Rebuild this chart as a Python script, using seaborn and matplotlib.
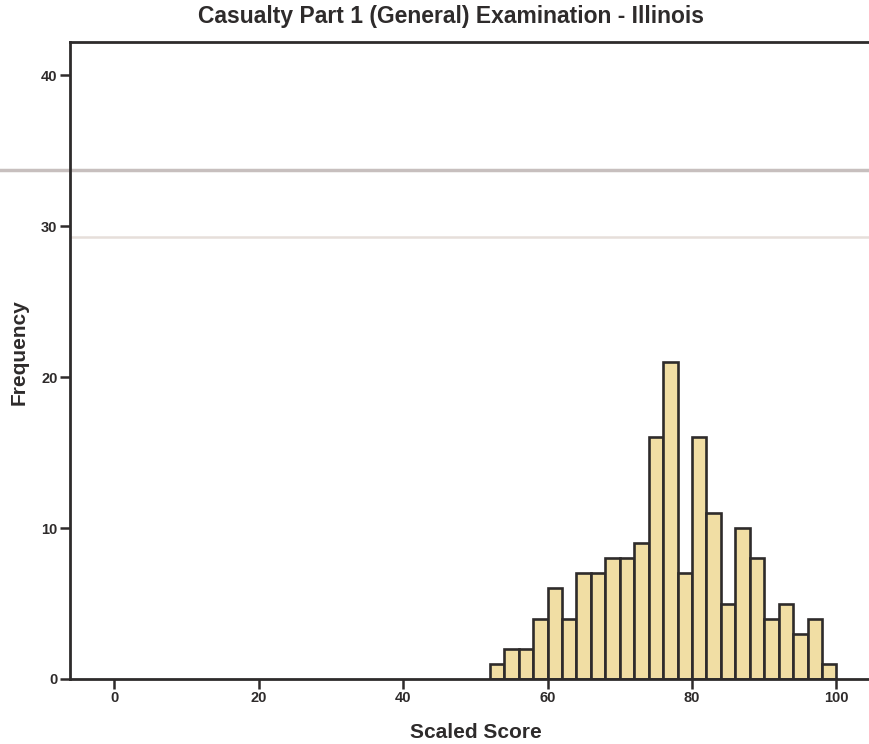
import matplotlib
matplotlib.use("Agg")
import matplotlib.pyplot as plt
import seaborn as sns

# histogram of scaled scores, bins of width 2
bin_edges = [52, 54, 56, 58, 60, 62, 64, 66, 68, 70, 72, 74, 76,
             78, 80, 82, 84, 86, 88, 90, 92, 94, 96, 98, 100]
bin_centers = [53, 55, 57, 59, 61, 63, 65, 67, 69, 71, 73, 75,
               77, 79, 81, 83, 85, 87, 89, 91, 93, 95, 97, 99]
counts = [1, 2, 2, 4, 6, 4, 7, 7, 8, 8, 9, 16,
          21, 7, 16, 11, 5, 10, 8, 4, 5, 3, 4, 1]
x_ticks = [0, 20, 40, 60, 80, 100]
y_ticks = [0, 10, 20, 30, 40]

sns.set_style("white")
plt.rcParams["font.family"] = ["Liberation Sans", "DejaVu Sans"]

ink = "#2e2b2b"
W, H = 869, 744
fig = plt.figure(figsize=(W / 100, H / 100), dpi=100)
ax = fig.add_axes([70 / W, 1 - 679 / H, 1 - 70 / W, (679 - 42) / H])

sns.histplot(x=bin_centers, weights=counts, bins=bin_edges,
             color="#f1dea4", edgecolor=ink, linewidth=1.9, alpha=1, ax=ax)

# faint scan streaks across the plot
ax.axhline(33.75, xmin=-0.09, xmax=1, color="#b9b0ae", lw=2.5, alpha=0.8, clip_on=False, zorder=0)
ax.axhline(29.3, color="#e6dfda", lw=1.8, zorder=0)

ax.set_xlim(-6.1, 104.5)
ax.set_ylim(0, 42.2)
ax.set_xticks(x_ticks)
ax.set_yticks(y_ticks)
ax.tick_params(bottom=True, left=True, direction="out", length=7, width=1.8,
               color=ink, labelsize=10.5, labelcolor=ink, pad=2)
for lab in ax.get_xticklabels() + ax.get_yticklabels():
    lab.set_fontweight("bold")

for side in ["top", "left", "bottom"]:
    ax.spines[side].set_visible(True)
    ax.spines[side].set_color(ink)
    ax.spines[side].set_linewidth(2)
ax.spines["right"].set_visible(False)

ax.set_xlabel("Scaled Score", fontsize=15, fontweight="bold", color=ink, va="center")
ax.set_ylabel("Frequency", fontsize=15, fontweight="bold", color=ink, va="center")
ax.xaxis.set_label_coords((476 - 70) / (W - 70), -(732 - 679) / (679 - 42))
ax.yaxis.set_label_coords(-(70 - 19) / (W - 70), (679 - 352) / (679 - 42))

fig.text(451 / W, 1 - 16 / H, "Casualty Part 1 (General) Examination - Illinois",
         ha="center", va="center", fontsize=16.5, fontweight="bold", color=ink)

fig.savefig("out.png", dpi=100)
